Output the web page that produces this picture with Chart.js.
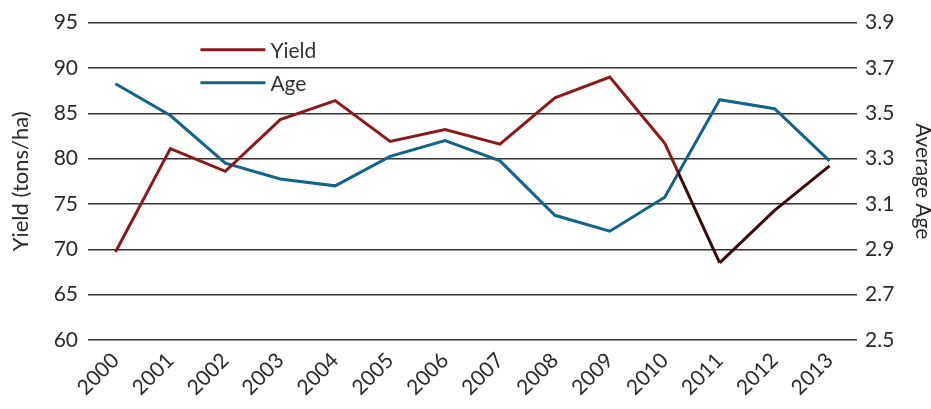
<!DOCTYPE html>
<html>
<head>
<meta charset="utf-8">
<script src="https://cdn.jsdelivr.net/npm/chart.js@4/dist/chart.umd.min.js"></script>
<style>
  html, body { margin: 0; padding: 0; background: #fff; }
  #wrap { width: 931px; height: 409px; }
</style>
</head>
<body>
<div id="wrap"><canvas id="grafico"></canvas></div>
<script>
const anios = ['2000', '2001', '2002', '2003', '2004', '2005', '2006', '2007', '2008', '2009', '2010', '2011', '2012', '2013'];
const rendimiento = [69.7, 81.1, 78.6, 84.3, 86.4, 81.9, 83.2, 81.6, 86.7, 89.0, 81.7, 68.5, 74.3, 79.2];
const edad = [3.63, 3.49, 3.28, 3.21, 3.18, 3.31, 3.38, 3.29, 3.05, 2.98, 3.13, 3.56, 3.52, 3.29];

const rojo = '#8b1a1a';
const azul = '#136488';
const oscuro = '#3b0a0a';
const fuente = 'Lato';

// color del tramo: rojo hasta que cruza la linea de edad en 2010-2011, luego oscuro
const colorTramo = (ctx) => {
    const i = ctx.p0DataIndex;
    if (i < 10) return rojo;
    if (i > 10) return oscuro;
    const otra = ctx.chart.getDatasetMeta(1).data;
    const a0 = ctx.p0.y - otra[10].y;
    const a1 = ctx.p1.y - otra[11].y;
    let t = a0 / (a0 - a1);
    if (!isFinite(t)) t = 0.5;
    t = Math.min(Math.max(t, 0), 1);
    const g = ctx.chart.ctx.createLinearGradient(ctx.p0.x, 0, ctx.p1.x, 0);
    g.addColorStop(0, rojo);
    g.addColorStop(t, rojo);
    g.addColorStop(t, oscuro);
    g.addColorStop(1, oscuro);
    return g;
};

const leyenda = {
    id: 'leyenda',
    afterDraw(chart) {
        const c = chart.ctx;
        const x = chart.scales.x.getPixelForValue(1) + 30;
        const y0 = chart.scales.y.getPixelForValue(92.0);
        c.save();
        c.font = '21px ' + fuente;
        c.textBaseline = 'middle';
        chart.data.datasets.forEach((ds, i) => {
            const y = y0 + i * 33;
            c.strokeStyle = ds.borderColor;
            c.lineWidth = 3;
            c.beginPath();
            c.moveTo(x, y);
            c.lineTo(x + 65, y);
            c.stroke();
            c.fillStyle = '#333';
            c.fillText(ds.label, x + 70, y + 1);
        });
        c.restore();
    }
};

const ctx = document.getElementById('grafico').getContext('2d');
const grafico = new Chart(ctx, {
    type: 'line',
    data: {
        labels: anios,
        datasets: [{
            label: 'Yield',
            data: rendimiento,
            borderColor: rojo,
            borderWidth: 3,
            pointRadius: 0,
            tension: 0,
            yAxisID: 'y',
            segment: { borderColor: colorTramo }
        }, {
            label: 'Age',
            data: edad,
            borderColor: azul,
            borderWidth: 3,
            pointRadius: 0,
            tension: 0,
            yAxisID: 'y2'
        }]
    },
    options: {
        responsive: true,
        maintainAspectRatio: false,
        animation: false,
        layout: { padding: { top: 12, left: 4, right: 0, bottom: 0 } },
        plugins: {
            legend: { display: false },
            tooltip: { enabled: false }
        },
        scales: {
            x: {
                offset: true,
                grid: { display: false },
                border: { display: false },
                afterFit: (s) => { s.height = 69; },
                ticks: {
                    color: '#2a2a2a',
                    font: { family: fuente, size: 21 },
                    maxRotation: 45,
                    minRotation: 45,
                    padding: 0
                }
            },
            y: {
                position: 'left',
                min: 60,
                max: 95,
                afterFit: (s) => { s.width = 84; },
                ticks: {
                    stepSize: 5,
                    color: '#2a2a2a',
                    font: { family: fuente, size: 21 },
                    padding: 10
                },
                grid: { color: '#333', lineWidth: 1.5, drawTicks: false },
                border: { display: false },
                title: {
                    display: true,
                    text: 'Yield (tons/ha)',
                    color: '#2a2a2a',
                    font: { family: fuente, size: 22 },
                    padding: { bottom: 4 }
                }
            },
            y2: {
                position: 'right',
                min: 2.5,
                max: 3.9,
                afterFit: (s) => { s.width = 74; },
                ticks: {
                    stepSize: 0.2,
                    color: '#2a2a2a',
                    font: { family: fuente, size: 21 },
                    padding: 8,
                    callback: (v) => v.toFixed(1)
                },
                grid: { display: false, drawTicks: false },
                border: { display: false },
                title: {
                    display: true,
                    text: 'Average Age',
                    color: '#2a2a2a',
                    font: { family: fuente, size: 21 },
                    padding: { top: -4, bottom: 2 }
                }
            }
        }
    },
    plugins: [leyenda]
});
</script>
</body>
</html>
